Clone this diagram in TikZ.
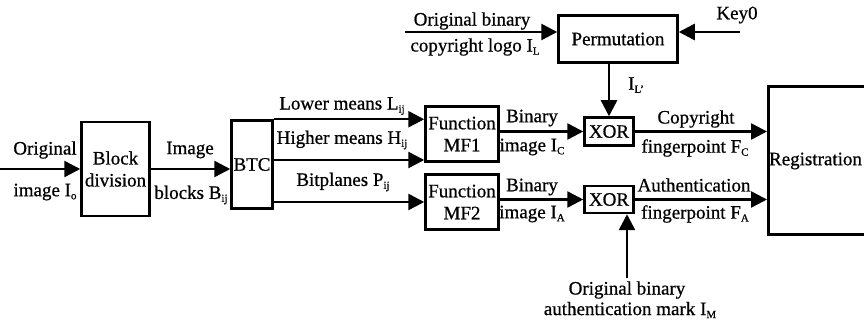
\documentclass[tikz,border=0pt]{standalone}
\usepackage{fontspec}
\setmainfont{Liberation Serif}[FakeBold=0.7]
\usetikzlibrary{arrows.meta}
\newcommand{\lowx}[1]{\raisebox{-0.35ex}{\fontsize{11}{11}\selectfont #1}}
\begin{document}
\begin{tikzpicture}[x=1pt,y=-1pt,
  box/.style={draw,line width=2.5pt,inner sep=0pt,align=center,font=\fontsize{19}{22}\selectfont},
  lbl/.style={inner sep=0pt,align=center,font=\fontsize{19}{22}\selectfont},
  arr/.style={line width=2.5pt,-{Triangle[length=16pt,width=16pt]}}]
\useasboundingbox (0,0) rectangle (864,320);
% boxes
\node[box,minimum width=68pt,minimum height=94pt] (blk) at (115.5,169) {Block\\division};
\node[box,minimum width=41pt,minimum height=88pt] (btc) at (252,164.5) {BTC};
\node[box,minimum width=73pt,minimum height=55pt] (mf1) at (462,134) {Function\\MF1};
\node[box,minimum width=73pt,minimum height=55pt] (mf2) at (462,202) {Function\\MF2};
\node[box,minimum width=49pt,minimum height=28pt] (x1) at (609,131.5) {XOR};
\node[box,minimum width=49pt,minimum height=27pt] (x2) at (609,199.5) {XOR};
\node[box,minimum width=119pt,minimum height=47pt] (perm) at (618,39) {Permutation};
\node[box,minimum width=140pt,minimum height=148pt,anchor=west] (reg) at (767,160.5) {};
\node[lbl] (regtxt) at (815.5,161) {Registration};
% free ends
\coordinate (in0) at (0,169);
\coordinate (lg) at (405,32);
\coordinate (k0) at (740,32);
\coordinate (am) at (627,278);
% connectors
\draw[arr] (in0) -- (in0 -| blk.west);
\draw[arr] (blk.east) -- (blk.east -| btc.west);
\draw[arr] (btc.north east) -- (btc.north east -| mf1.west);
\draw[arr] ([yshift=4.5pt]btc.east) -- ([yshift=4.5pt]btc.east -| mf1.west);
\draw[arr] (mf2.west -| btc.east) -- (mf2.west);
\draw[arr] (x1.west -| mf1.east) -- (x1.west);
\draw[arr] (x2.west -| mf2.east) -- (x2.west);
\draw[arr] (x1.east) -- (x1.east -| reg.west);
\draw[arr] (x2.east) -- (x2.east -| reg.west);
\draw[arr] (x1.north |- perm.south) -- (x1.north);
\draw[arr] (lg) -- (lg -| perm.west);
\draw[arr] (k0) -- (k0 -| perm.east);
\draw[arr] (am) -- (am |- x2.south);
% labels
\node[lbl] (t1) at (45,150) {Original};
\node[lbl] (t2) at (45,192) {image I\lowx{o}};
\node[lbl] (t3) at (190,150) {Image};
\node[lbl] (t4) at (191,195) {blocks B\lowx{ij}};
\node[lbl] (t5) at (342,106) {Lower means L\lowx{ij}};
\node[lbl] (t6) at (342,140) {Higher means H\lowx{ij}};
\node[lbl] (t7) at (343,182) {Bitplanes P\lowx{ij}};
\node[lbl] (t8) at (532,118) {Binary};
\node[lbl] (t9) at (532,147) {image I\lowx{C}};
\node[lbl] (t10) at (532,187) {Binary};
\node[lbl] (t11) at (532,214) {image I\lowx{A}};
\node[lbl] (t12) at (696,119) {Copyright};
\node[lbl] (t13) at (695,148) {fingerpoint F\lowx{C}};
\node[lbl] (t14) at (694,185) {Authentication};
\node[lbl] (t15) at (695,214) {fingerpoint F\lowx{A}};
\node[lbl] (t16) at (472,21) {Original binary};
\node[lbl] (t17) at (475,47) {copyright logo I\lowx{L}};
\node[lbl] (t18) at (737,15) {Key0};
\node[lbl] (t19) at (636,85) {I\lowx{L'}};
\node[lbl] (t20) at (627,290) {Original binary};
\node[lbl] (t21) at (630,310) {authentication mark I\lowx{M}};
\end{tikzpicture}
\end{document}
